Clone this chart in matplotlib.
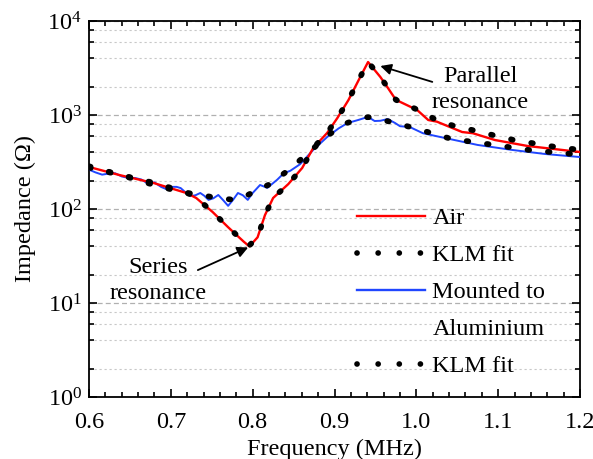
import matplotlib
matplotlib.use("Agg")
import matplotlib.pyplot as plt
from matplotlib.ticker import LogLocator, MultipleLocator, NullFormatter
from matplotlib.lines import Line2D

plt.rcParams['font.family'] = ['Liberation Serif', 'DejaVu Serif']
plt.rcParams['mathtext.fontset'] = 'custom'
plt.rcParams['mathtext.rm'] = 'Liberation Serif'
plt.rcParams['mathtext.it'] = 'Liberation Serif:italic'
FS = 17.5

# Air measurement
air_f = [0.600, 0.637, 0.679, 0.719, 0.731, 0.751, 0.770, 0.789, 0.796, 0.806, 0.815, 0.825,
         0.8435, 0.8605, 0.874, 0.891, 0.9035, 0.917, 0.9315, 0.941, 0.956, 0.9645, 0.975,
         1.001, 1.0145, 1.025, 1.056, 1.069, 1.096, 1.136, 1.178, 1.200]
air_z = [280, 230, 189, 148, 131, 93, 64, 45, 40, 50, 86, 131,
         184, 273, 446, 644, 929, 1440, 2540, 3660, 2540, 1985, 1450,
         1130, 885, 850, 659, 640, 542, 468, 425, 404]

# KLM fit (air)
air_fit_f = [0.600, 0.637, 0.679, 0.719, 0.731, 0.751, 0.770, 0.789, 0.796, 0.806, 0.815, 0.825,
             0.8435, 0.8605, 0.874, 0.891, 0.9035, 0.917, 0.9315, 0.941, 0.956, 0.9645, 0.975,
             1.001, 1.025, 1.045, 1.069, 1.094, 1.118, 1.143, 1.167, 1.200]
air_fit_z = [285, 232, 190, 150, 132, 93, 64, 45, 41, 50, 86, 131,
             184, 273, 446, 644, 929, 1440, 2540, 3660, 2540, 1985, 1450,
             1140, 880, 770, 690, 610, 545, 500, 462, 425]

# Mounted to aluminium measurement
al_f = [0.600, 0.608, 0.616, 0.624, 0.632, 0.640, 0.648, 0.656, 0.664, 0.672, 0.680, 0.688,
        0.695, 0.702, 0.707, 0.712, 0.718, 0.724, 0.730, 0.736, 0.741, 0.746, 0.752, 0.758,
        0.764, 0.770, 0.776, 0.782, 0.788, 0.794, 0.800, 0.809,
        0.818, 0.830, 0.838, 0.846, 0.858, 0.874, 0.891, 0.905, 0.916, 0.929, 0.941, 0.949,
        0.956, 0.965, 0.974, 0.980, 0.992, 1.008, 1.035, 1.075, 1.117, 1.157, 1.200]
al_z = [262, 245, 232, 238, 240, 222, 214, 214, 206, 186, 192, 172,
        162, 172, 172, 167, 150, 137, 140, 148, 138, 125, 130, 141,
        124, 108, 125, 148, 140, 125, 148, 180,
        168, 205, 240, 255, 300, 425, 583, 720, 822, 885, 955, 863,
        868, 906, 822, 760, 745, 640, 569, 480, 425, 385, 357]

# KLM fit (mounted)
al_fit_f = [0.600, 0.625, 0.650, 0.675, 0.700, 0.720, 0.735, 0.755, 0.775, 0.790, 0.800, 0.820,
            0.840, 0.856, 0.874, 0.892, 0.915, 0.930, 0.941, 0.955, 0.965, 0.988, 1.014, 1.039,
            1.061, 1.087, 1.112, 1.137, 1.163, 1.190, 1.200]
al_fit_z = [275, 245, 215, 185, 162, 148, 143, 131, 126, 135, 150, 182,
            245, 320, 440, 610, 820, 910, 950, 900, 860, 764, 659, 569,
            529, 491, 457, 425, 404, 385, 378]

x_ticks = [0.6, 0.7, 0.8, 0.9, 1.0, 1.1, 1.2]
x_tick_labels = ['0.6', '0.7', '0.8', '0.9', '1.0', '1.1', '1.2']
legend_labels = ['Air', 'KLM fit', 'Mounted to', 'Aluminium', 'KLM fit']

fig = plt.figure(figsize=(5.93, 4.59), dpi=100)
ax = fig.add_axes([89/593, 1-397/459, (580-89)/593, (397-21)/459])

red = '#ff0000'
blue = '#2046ff'
dot_style = (0, (0.3, 3.3))

ax.plot(al_f, al_z, color=blue, lw=1.4, zorder=3)
ax.plot(air_f, air_z, color=red, lw=1.7, zorder=3)
ax.plot(air_fit_f, air_fit_z, color='black', lw=4.1, linestyle=dot_style,
        dash_capstyle='round', zorder=4)
ax.plot(al_fit_f, al_fit_z, color='black', lw=4.1, linestyle=dot_style,
        dash_capstyle='round', zorder=4)

ax.set_yscale('log')
ax.set_xlim(0.6, 1.2)
ax.set_ylim(1, 1e4)
ax.set_xticks(x_ticks)
ax.set_xticklabels(x_tick_labels)
ax.xaxis.set_minor_locator(MultipleLocator(0.02))
ax.yaxis.set_major_locator(LogLocator(base=10, numticks=10))
ax.yaxis.set_minor_locator(LogLocator(base=10, subs=(2, 4, 6, 8), numticks=10))
ax.yaxis.set_minor_formatter(NullFormatter())

ax.tick_params(which='both', direction='in', top=True, right=True, labelsize=FS, width=1.2)
ax.tick_params(which='major', length=6)
ax.tick_params(which='minor', length=3.5)
ax.tick_params(axis='x', which='major', pad=11)
ax.tick_params(axis='y', which='major', pad=5)
for s in ax.spines.values():
    s.set_linewidth(1.3)

ax.grid(True, which='major', axis='y', color='#b0b0b0', linestyle=(0, (4, 2.5)), lw=0.9)
ax.grid(True, which='minor', axis='y', color='#c8c8c8', linestyle=(0, (2, 2.5)), lw=0.8)
ax.grid(False, axis='x', which='both')
ax.set_axisbelow(True)

ax.set_xlabel('Frequency (MHz)', fontsize=FS, labelpad=4)
ax.set_ylabel('Impedance (Ω)', fontsize=FS, labelpad=8)

leg_dots = (0, (0.01, 3.7))
handles = [
    Line2D([], [], color=red, lw=1.7),
    Line2D([], [], color='black', lw=4.1, linestyle=leg_dots, dash_capstyle='round'),
    Line2D([], [], color=blue, lw=1.7),
    Line2D([], [], color='none', lw=0),
    Line2D([], [], color='black', lw=4.1, linestyle=leg_dots, dash_capstyle='round'),
]
ax.legend(handles, legend_labels, loc='upper left',
          bbox_to_anchor=((357-89)/491, (397-207)/376),
          frameon=False, fontsize=FS, handlelength=2.8, handletextpad=0.3,
          labelspacing=0.62, borderpad=0, borderaxespad=0)

# annotations
ax.annotate('', xy=(0.956, 3320), xytext=(1.0195, 2250),
            arrowprops=dict(arrowstyle='-|>', color='black', lw=1.3, mutation_scale=16,
                            shrinkA=0, shrinkB=0))
ax.text(1.078, 1880, 'Parallel\nresonance', ha='center', va='center', fontsize=FS,
        linespacing=1.3)
ax.annotate('', xy=(0.7945, 39), xytext=(0.733, 22.4),
            arrowprops=dict(arrowstyle='-|>', color='black', lw=1.3, mutation_scale=16,
                            shrinkA=0, shrinkB=0))
ax.text(0.684, 17.5, 'Series\nresonance', ha='center', va='center', fontsize=FS,
        linespacing=1.3)

fig.savefig('out.png', dpi=100)
